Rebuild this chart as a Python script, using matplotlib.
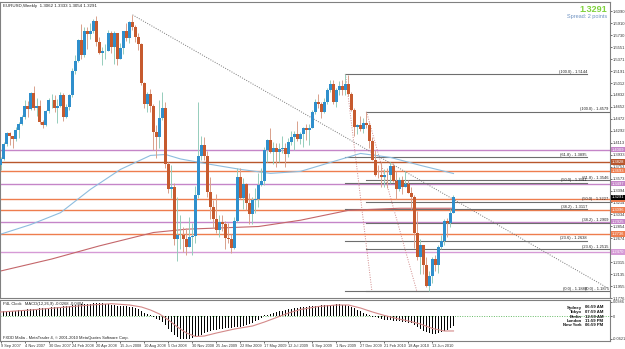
import numpy as np
import matplotlib.pyplot as plt

plt.rcParams['font.family'] = ['Liberation Sans', 'DejaVu Sans']

# weekly EURUSD bars, 9 Sep 2007 .. 1 Aug 2010
opens = [1.3780, 1.3870, 1.4100, 1.4260, 1.4220, 1.4170, 1.4300, 1.4400, 1.4500, 1.4670,
         1.4620, 1.4860, 1.4640, 1.4660, 1.4420, 1.4380, 1.4590, 1.4750, 1.4750, 1.4640,
         1.4660, 1.4830, 1.4500, 1.4650, 1.4830, 1.5190, 1.5350, 1.5660, 1.5430, 1.5790,
         1.5750, 1.5800, 1.5950, 1.5630, 1.5460, 1.5490, 1.5500, 1.5760, 1.5550, 1.5760,
         1.5380, 1.5540, 1.5800, 1.5690, 1.5930, 1.5860, 1.5700, 1.5600, 1.5010, 1.4690,
         1.4850, 1.4670, 1.4270, 1.4200, 1.4480, 1.4640, 1.3800, 1.3420, 1.3450, 1.2670,
         1.2720, 1.2730, 1.2670, 1.2550, 1.2700, 1.2710, 1.3320, 1.3920, 1.4080, 1.3920,
         1.3370, 1.3150, 1.2960, 1.2800, 1.2920, 1.2890, 1.2680, 1.2670, 1.2530, 1.2930,
         1.3590, 1.3280, 1.3490, 1.3200, 1.3040, 1.3250, 1.3270, 1.3480, 1.3530, 1.4000,
         1.4150, 1.3970, 1.4040, 1.3970, 1.4020, 1.4030, 1.3950, 1.4120, 1.4200, 1.4250,
         1.4170, 1.4240, 1.4330, 1.4300, 1.4340, 1.4580, 1.4720, 1.4690, 1.4580, 1.4720,
         1.4900, 1.5000, 1.4720, 1.4900, 1.4960, 1.4900, 1.4990, 1.4850, 1.4610, 1.4350,
         1.4380, 1.4320, 1.4410, 1.4380, 1.4140, 1.3860, 1.3630, 1.3620, 1.3590, 1.3630,
         1.3620, 1.3760, 1.3530, 1.3410, 1.3550, 1.3450, 1.3490, 1.3360, 1.3300, 1.2760,
         1.2390, 1.2570, 1.2270, 1.1960, 1.2110, 1.2370, 1.2270, 1.2540, 1.2640, 1.2940,
         1.2910, 1.3062]
highs = [1.3900, 1.4130, 1.4280, 1.4270, 1.4220, 1.4350, 1.4420, 1.4530, 1.4750, 1.4740,
         1.4880, 1.4970, 1.4780, 1.4750, 1.4450, 1.4610, 1.4790, 1.4850, 1.4830, 1.4770,
         1.4880, 1.4860, 1.4700, 1.4840, 1.5240, 1.5440, 1.5680, 1.5900, 1.5850, 1.5860,
         1.5920, 1.5980, 1.6020, 1.5700, 1.5560, 1.5600, 1.5810, 1.5800, 1.5790, 1.5770,
         1.5620, 1.5800, 1.5910, 1.5940, 1.6038, 1.5890, 1.5760, 1.5620, 1.5020, 1.4880,
         1.4920, 1.4700, 1.4380, 1.4750, 1.4870, 1.4720, 1.3830, 1.3780, 1.3500, 1.3300,
         1.3020, 1.2840, 1.2830, 1.3000, 1.2900, 1.3460, 1.4719, 1.4220, 1.4200, 1.3990,
         1.3590, 1.3250, 1.3340, 1.3030, 1.3030, 1.2940, 1.2900, 1.2740, 1.3000, 1.3740,
         1.3740, 1.3580, 1.3510, 1.3350, 1.3300, 1.3430, 1.3660, 1.3740, 1.4050, 1.4170,
         1.4340, 1.4130, 1.4110, 1.4110, 1.4220, 1.4110, 1.4180, 1.4290, 1.4290, 1.4440,
         1.4270, 1.4350, 1.4390, 1.4390, 1.4600, 1.4770, 1.4840, 1.4730, 1.4780, 1.4930,
         1.5060, 1.5060, 1.4930, 1.5040, 1.5060, 1.5144, 1.5140, 1.4880, 1.4630, 1.4400,
         1.4510, 1.4480, 1.4579, 1.4420, 1.4200, 1.4000, 1.3780, 1.3820, 1.3720, 1.3740,
         1.3820, 1.3810, 1.3690, 1.3590, 1.3610, 1.3690, 1.3550, 1.3450, 1.3320, 1.3090,
         1.2670, 1.2580, 1.2390, 1.2180, 1.2390, 1.2420, 1.2570, 1.2720, 1.2970, 1.2980,
         1.3110, 1.3333]
lows = [1.3700, 1.3860, 1.4060, 1.4080, 1.4030, 1.4140, 1.4190, 1.4380, 1.4470, 1.4500,
        1.4600, 1.4610, 1.4520, 1.4390, 1.4340, 1.4370, 1.4560, 1.4640, 1.4580, 1.4410,
        1.4650, 1.4440, 1.4480, 1.4600, 1.4800, 1.5150, 1.5330, 1.5380, 1.5400, 1.5530,
        1.5680, 1.5770, 1.5570, 1.5450, 1.5290, 1.5370, 1.5500, 1.5470, 1.5300, 1.5280,
        1.5380, 1.5450, 1.5640, 1.5610, 1.5810, 1.5630, 1.5510, 1.4980, 1.4640, 1.4580,
        1.4570, 1.4000, 1.3880, 1.4040, 1.4460, 1.3740, 1.3350, 1.3280, 1.2570, 1.2330,
        1.2520, 1.2470, 1.2430, 1.2540, 1.2420, 1.2600, 1.3280, 1.3850, 1.3860, 1.3300,
        1.2970, 1.2830, 1.2760, 1.2690, 1.2780, 1.2510, 1.2600, 1.2457, 1.2520, 1.2920,
        1.3260, 1.3120, 1.3100, 1.2890, 1.2890, 1.3060, 1.3150, 1.3460, 1.3470, 1.3830,
        1.3960, 1.3800, 1.3750, 1.3830, 1.3960, 1.3750, 1.3900, 1.4080, 1.4000, 1.4140,
        1.4090, 1.4050, 1.4160, 1.4080, 1.4330, 1.4540, 1.4640, 1.4480, 1.4560, 1.4700,
        1.4880, 1.4690, 1.4650, 1.4830, 1.4830, 1.4830, 1.4820, 1.4590, 1.4220, 1.4250,
        1.4290, 1.4260, 1.4340, 1.4030, 1.3850, 1.3610, 1.3580, 1.3440, 1.3440, 1.3430,
        1.3510, 1.3520, 1.3270, 1.3380, 1.3340, 1.3440, 1.3350, 1.3110, 1.2530, 1.2350,
        1.2140, 1.2140, 1.1940, 1.1876, 1.2000, 1.2180, 1.2150, 1.2510, 1.2580, 1.2700,
        1.2840, 1.3054]
closes = [1.3870, 1.4100, 1.4260, 1.4220, 1.4170, 1.4300, 1.4400, 1.4500, 1.4670, 1.4620,
          1.4860, 1.4640, 1.4660, 1.4420, 1.4380, 1.4590, 1.4750, 1.4750, 1.4640, 1.4660,
          1.4830, 1.4500, 1.4650, 1.4830, 1.5190, 1.5350, 1.5660, 1.5430, 1.5790, 1.5750,
          1.5800, 1.5950, 1.5630, 1.5460, 1.5490, 1.5500, 1.5760, 1.5550, 1.5760, 1.5380,
          1.5540, 1.5800, 1.5690, 1.5930, 1.5860, 1.5700, 1.5600, 1.5010, 1.4690, 1.4850,
          1.4670, 1.4270, 1.4200, 1.4480, 1.4640, 1.3800, 1.3420, 1.3450, 1.2670, 1.2720,
          1.2730, 1.2670, 1.2550, 1.2700, 1.2710, 1.3320, 1.3920, 1.4080, 1.3920, 1.3370,
          1.3150, 1.2960, 1.2800, 1.2920, 1.2890, 1.2680, 1.2670, 1.2530, 1.2930, 1.3590,
          1.3280, 1.3490, 1.3200, 1.3040, 1.3250, 1.3270, 1.3480, 1.3530, 1.4000, 1.4150,
          1.3970, 1.4040, 1.3970, 1.4020, 1.4030, 1.3950, 1.4120, 1.4200, 1.4250, 1.4170,
          1.4240, 1.4330, 1.4300, 1.4340, 1.4580, 1.4720, 1.4690, 1.4580, 1.4720, 1.4900,
          1.5000, 1.4720, 1.4900, 1.4960, 1.4900, 1.4990, 1.4850, 1.4610, 1.4350, 1.4380,
          1.4320, 1.4410, 1.4380, 1.4140, 1.3860, 1.3630, 1.3620, 1.3590, 1.3630, 1.3620,
          1.3760, 1.3530, 1.3410, 1.3550, 1.3450, 1.3490, 1.3360, 1.3300, 1.2760, 1.2390,
          1.2570, 1.2270, 1.1960, 1.2110, 1.2370, 1.2270, 1.2540, 1.2640, 1.2940, 1.2910,
          1.3062, 1.3291]

# moving averages (bar index, price)
ma_blue_bars = [0, 10, 20, 30, 40, 50, 55, 60, 70, 80, 90, 100, 110, 120, 130, 140, 151]
ma_blue = [1.2736, 1.2880, 1.3060, 1.3412, 1.3712, 1.3922, 1.3936, 1.3869, 1.3787, 1.3712,
           1.3652, 1.3682, 1.3817, 1.3952, 1.3892, 1.3772, 1.3650]
ma_red_bars = [0, 17, 33, 51, 62, 77, 86, 100, 116, 133, 151]
ma_red = [1.2182, 1.2362, 1.2561, 1.2762, 1.2812, 1.2837, 1.2852, 1.2947, 1.3096, 1.3127, 1.3127]

# MACD(12,26,9) histogram and signal
macd = [0.0135, 0.0135, 0.0135, 0.0135, 0.0135, 0.0135, 0.0162, 0.0162, 0.0162, 0.0189,
        0.0189, 0.0189, 0.0189, 0.0216, 0.0216, 0.0216, 0.0216, 0.0243, 0.0243, 0.0243,
        0.0243, 0.0270, 0.0270, 0.0270, 0.0297, 0.0297, 0.0297, 0.0324, 0.0324, 0.0324,
        0.0324, 0.0351, 0.0351, 0.0351, 0.0351, 0.0324, 0.0324, 0.0297, 0.0297, 0.0270,
        0.0270, 0.0270, 0.0270, 0.0243, 0.0243, 0.0216, 0.0189, 0.0135, 0.0081, 0.0054,
        0.0027, -0.0027, -0.0081, -0.0108, -0.0162, -0.0243, -0.0351, -0.0432, -0.0513, -0.0567,
        -0.0621, -0.0621, -0.0621, -0.0621, -0.0594, -0.0567, -0.0540, -0.0513, -0.0459, -0.0432,
        -0.0405, -0.0378, -0.0378, -0.0351, -0.0351, -0.0324, -0.0324, -0.0324, -0.0297, -0.0297,
        -0.0297, -0.0270, -0.0243, -0.0216, -0.0189, -0.0135, -0.0108, -0.0054, 0.0014, 0.0027,
        0.0054, 0.0081, 0.0108, 0.0135, 0.0135, 0.0162, 0.0189, 0.0189, 0.0216, 0.0216,
        0.0243, 0.0243, 0.0243, 0.0270, 0.0270, 0.0270, 0.0270, 0.0297, 0.0297, 0.0297,
        0.0297, 0.0297, 0.0324, 0.0324, 0.0297, 0.0297, 0.0270, 0.0243, 0.0216, 0.0162,
        0.0135, 0.0081, 0.0054, 0.0027, -0.0014, -0.0027, -0.0054, -0.0081, -0.0108, -0.0108,
        -0.0108, -0.0135, -0.0135, -0.0135, -0.0162, -0.0162, -0.0189, -0.0189, -0.0243, -0.0297,
        -0.0351, -0.0405, -0.0432, -0.0459, -0.0486, -0.0486, -0.0459, -0.0432, -0.0405, -0.0378,
        -0.0324, -0.0268]
signal_bars = [0, 10, 20, 30, 37, 43, 47, 50, 53, 56, 59, 62, 65, 68, 72, 78, 84, 88, 92,
               96, 100, 106, 112, 116, 120, 124, 128, 132, 136, 140, 144, 148, 151]
signal = [0.0108, 0.0162, 0.0230, 0.0297, 0.0332, 0.0297, 0.0243, 0.0162, 0.0054, -0.0108,
          -0.0297, -0.0459, -0.0554, -0.0540, -0.0459, -0.0351, -0.0270, -0.0162, -0.0041,
          0.0081, 0.0176, 0.0257, 0.0297, 0.0297, 0.0216, 0.0108, 0.0014, -0.0068, -0.0135,
          -0.0216, -0.0338, -0.0405, -0.0404]

date_bars = list(range(0, 152, 8))
date_labels = ['9 Sep 2007', '4 Nov 2007', '30 Dec 2007', '24 Feb 2008', '20 Apr 2008',
               '15 Jun 2008', '10 Aug 2008', '5 Oct 2008', '30 Nov 2008', '25 Jan 2009',
               '22 Mar 2009', '17 May 2009', '12 Jul 2009', '6 Sep 2009', '1 Nov 2009',
               '27 Dec 2009', '21 Feb 2010', '18 Apr 2010', '13 Jun 2010']

price_ticks = [1.6090, 1.5910, 1.5730, 1.5551, 1.5371, 1.5191, 1.5012, 1.4832, 1.4652,
               1.4472, 1.4292, 1.4113, 1.3933, 1.3753, 1.3573, 1.3394, 1.3214, 1.3034,
               1.2854, 1.2674, 1.2495, 1.2315, 1.2135, 1.1955, 1.1776]

# horizontal support / resistance lines
level_prices = [1.4009, 1.3828, 1.3693, 1.3497, 1.3270, 1.3096, 1.2925, 1.2736, 1.2470]
level_colors = ['#c585c8', '#b8562c', '#ee7d4e', '#c585c8', '#ee7d4e', '#ee7d4e',
                '#c585c8', '#ee7d4e', '#d69ad6']

# two fibonacci retracements: anchor bar, end bar, level names, prices
fibA_bar, fibA_end = 115, 195.5
fibA_names = ['100.0', '61.8', '50.0', '38.2', '23.6', '0.0']
fibA_prices = [1.5144, 1.3895, 1.3511, 1.3117, 1.2638, 1.1880]
fibA_diag = ([115, 123.8], [1.5144, 1.1880])
fibB_bar, fibB_end = 122, 203.2
fibB_names = ['100.0', '61.8', '50.0', '38.2', '23.6', '0.0']
fibB_prices = [1.4579, 1.3546, 1.3227, 1.2909, 1.2515, 1.1875]
fibB_diag = ([122, 138.8], [1.4579, 1.1875])

# long trendline from the 2008 top
trend_bars = [44, 202]
trend_prices = [1.6038, 1.1936]

last_price = 1.3291

W, H = 625, 349
fig = plt.figure(figsize=(W / 100, H / 100), dpi=100)
fig.patch.set_facecolor('white')
ax = fig.add_axes([0, 1 - 298 / H, 610 / W, 296 / H])
ax2 = fig.add_axes([0, 1 - 341 / H, 610 / W, 41 / H])

xlim = (-0.167, 203.17)
idx = np.arange(len(closes))
o = np.array(opens)
c = np.array(closes)
up = c >= o

# levels under candles
for p, col in zip(level_prices, level_colors):
    ax.axhline(p, color=col, lw=1.0, zorder=1)

for p in fibA_prices:
    ax.plot([fibA_bar, fibA_end], [p, p], color='#6e6e6e', lw=0.8, zorder=1)
for name, p in zip(fibA_names, fibA_prices):
    ax.text(fibA_end, p + 0.0006, '(%s) - %.4f' % (name, p), fontsize=2.9,
            ha='right', va='bottom', color='#222222', zorder=6)
for p in fibB_prices:
    ax.plot([fibB_bar, fibB_end], [p, p], color='#6e6e6e', lw=0.8, zorder=1)
for name, p in zip(fibB_names, fibB_prices):
    ax.text(fibB_end - 0.5, p + 0.0006, '(%s) - %.4f' % (name, p), fontsize=2.9,
            ha='right', va='bottom', color='#222222', zorder=6)
ax.plot(*fibA_diag, color='#d08a8a', lw=0.7, ls=(0, (1, 1.5)), zorder=2)
ax.plot(*fibB_diag, color='#d08a8a', lw=0.7, ls=(0, (1, 1.5)), zorder=2)
ax.plot(trend_bars, trend_prices, color='#777777', lw=0.7, ls=(0, (1, 1.5)), zorder=2)

ax.plot(ma_blue_bars, ma_blue, color='#8dbddf', lw=0.8, zorder=2)
ax.plot(ma_red_bars, ma_red, color='#c4666a', lw=0.8, zorder=2)

# candles
wick_col = np.where(up, '#95cdbb', '#d9a18c')
body_col = np.where(up, '#2f8fcc', '#c65a2e')
ax.vlines(idx, lows, highs, colors=wick_col, lw=0.7, zorder=3)
body = np.maximum(np.abs(c - o), 0.0005)
ax.bar(idx, body, bottom=np.minimum(o, c), width=0.7, color=body_col, lw=0, zorder=4)

ax.set_xlim(*xlim)
ax.set_ylim(1.17915, 1.62315)
ax.yaxis.tick_right()
ax.set_yticks(price_ticks)
ax.set_yticklabels(['%.4f' % t for t in price_ticks])
ax.tick_params(axis='y', labelsize=3.0, length=1.5, width=0.5, pad=0.8, colors='#333333')
ax.set_xticks([])
for s in ax.spines.values():
    s.set_color('#808080')
    s.set_linewidth(0.8)

# price boxes on the right scale
for p, col in zip(level_prices, level_colors):
    ax.text(1.003, p, '%.4f' % p, transform=ax.get_yaxis_transform(), fontsize=3.0,
            color='white', va='center', ha='left', clip_on=False, zorder=7,
            bbox=dict(boxstyle='square,pad=0.2', fc=col, ec='none'))
ax.text(1.003, last_price, '%.4f' % last_price, transform=ax.get_yaxis_transform(),
        fontsize=3.0, color='white', va='center', ha='left', clip_on=False, zorder=8,
        bbox=dict(boxstyle='square,pad=0.2', fc='black', ec='none'))

# MACD window
ax2.axhline(0, color='#66bb66', lw=0.7, ls=(0, (1, 1.5)), zorder=1)
ax2.bar(idx, macd, width=0.32, color='black', lw=0, zorder=2)
ax2.plot(signal_bars, signal, color='#d48a8a', lw=0.8, zorder=3)
ax2.set_xlim(*xlim)
ax2.set_ylim(-0.0675, 0.0432)
ax2.yaxis.tick_right()
ax2.set_yticks([0.0386, 0, -0.0621])
ax2.set_yticklabels(['0.0386', '0', '-0.0621'])
ax2.tick_params(axis='y', labelsize=2.8, length=1.5, width=0.5, pad=0.8, colors='#333333')
ax2.set_xticks(date_bars)
ax2.set_xticklabels(date_labels, ha='left')
ax2.tick_params(axis='x', labelsize=2.8, length=1.5, width=0.5, pad=0.8, colors='#333333')
for s in ax2.spines.values():
    s.set_color('#808080')
    s.set_linewidth(0.8)

def px_text(x, y, s, **kw):
    fig.text(x / W, 1 - y / H, s, **kw)

px_text(3, 6, 'EURUSD,Weekly  1.3062 1.3333 1.3054 1.3291', fontsize=3.2, color='#222222',
        va='center')
px_text(607, 9, '1.3291', fontsize=6.5, color='#7fd23c', fontweight='bold', ha='right',
        va='center')
px_text(607, 16.5, 'Spread: 2 points', fontsize=4.0, color='#6f93c2', ha='right', va='center')
px_text(3, 304, 'P4L Clock   MACD(12,26,9) -0.0268 -0.0404', fontsize=3.0, color='#222222',
        va='center')
px_text(3, 338, 'FXDD Malta - MetaTrader 4, \u00a9 2001-2010 MetaQuotes Software Corp.',
        fontsize=2.9, color='#222222', va='center')

cities = ['Sydney', 'Tokyo', 'Berlin', 'London', 'New York']
times = ['06:59 AM', '07:59 AM', '12:59 AM', '11:59 PM', '06:59 PM']
for k, (city, t) in enumerate(zip(cities, times)):
    y = 307.5 + k * 4.5
    px_text(582, y, city, fontsize=3.1, color='#111111', fontweight='bold', ha='right',
            va='center')
    px_text(585, y, t, fontsize=3.1, color='#111111', fontweight='bold', ha='left',
            va='center')

fig.savefig('out.png', dpi=100)
